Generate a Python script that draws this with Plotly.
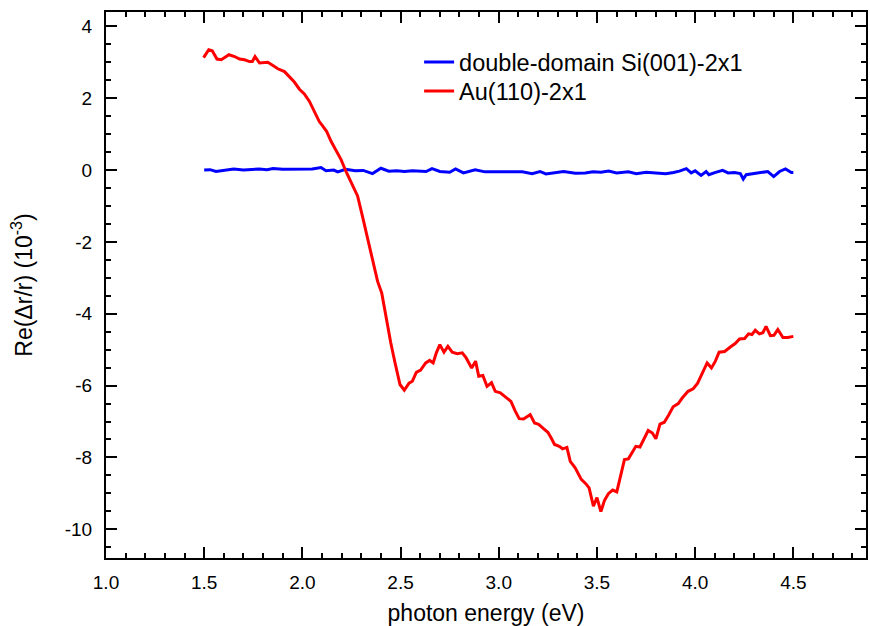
import plotly.graph_objects as go

# ---- data ----
si_energy = [1.50,1.53,1.56,1.60,1.65,1.70,1.75,1.78,1.82,1.85,1.90,1.95,2.00,2.05,2.095,
             2.12,2.16,2.18,2.22,2.27,2.31,2.357,2.40,2.44,2.48,2.52,2.56,2.60,2.63,2.66,
             2.70,2.75,2.78,2.82,2.88,2.93,2.98,3.02,3.07,3.12,3.17,3.21,3.24,3.29,3.33,
             3.39,3.44,3.48,3.52,3.56,3.60,3.66,3.70,3.75,3.80,3.85,3.89,3.92,3.955,3.98,
             4.00,4.03,4.056,4.07,4.10,4.14,4.168,4.20,4.23,4.245,4.26,4.30,4.335,4.37,4.40,
             4.43,4.46,4.49,4.50]
si_re = [0.00,0.01,-0.04,0.00,0.03,0.00,0.02,0.03,0.01,0.04,0.02,0.03,0.04,0.03,0.07,
         -0.02,0.00,-0.05,0.02,-0.02,-0.01,-0.10,0.05,-0.03,-0.02,-0.04,-0.02,-0.03,-0.04,0.04,
         -0.04,-0.06,0.03,-0.08,0.01,-0.05,-0.05,-0.07,-0.05,-0.05,-0.10,-0.04,-0.11,-0.06,-0.04,
         -0.09,-0.08,-0.05,-0.06,-0.03,-0.08,-0.05,-0.10,-0.06,-0.07,-0.10,-0.07,-0.03,0.04,-0.08,
         -0.02,-0.15,-0.04,-0.13,-0.07,-0.01,-0.08,-0.07,-0.10,-0.25,-0.13,-0.10,-0.07,-0.04,-0.18,
         -0.04,0.03,-0.07,-0.07]

au_energy = [1.497,1.523,1.541,1.565,1.587,1.626,1.655,1.680,1.706,1.731,1.745,1.759,1.782,1.799,
             1.824,1.850,1.875,1.909,1.934,1.959,1.985,2.010,2.036,2.061,2.086,2.103,2.124,2.146,
             2.171,2.197,2.222,2.247,2.281,2.306,2.332,2.357,2.383,2.404,2.424,2.450,2.472,2.497,
             2.519,2.543,2.560,2.580,2.602,2.628,2.648,2.666,2.682,2.700,2.721,2.741,2.763,2.789,
             2.814,2.834,2.848,2.862,2.882,2.898,2.919,2.940,2.963,2.982,3.008,3.033,3.062,3.084,
             3.104,3.126,3.160,3.182,3.203,3.228,3.250,3.267,3.284,3.308,3.325,3.347,3.364,3.389,
             3.420,3.443,3.460,3.482,3.500,3.520,3.538,3.558,3.580,3.601,3.623,3.640,3.660,3.677,
             3.698,3.719,3.740,3.761,3.782,3.800,3.821,3.843,3.866,3.888,3.914,3.935,3.964,3.990,
             4.012,4.035,4.061,4.083,4.103,4.122,4.150,4.181,4.204,4.226,4.252,4.272,4.289,4.306,
             4.327,4.345,4.361,4.383,4.401,4.421,4.447,4.472,4.500]
au_re = [3.13,3.35,3.32,3.09,3.07,3.21,3.16,3.09,3.07,3.02,3.02,3.16,2.98,2.98,
         3.00,2.91,2.82,2.74,2.60,2.45,2.25,2.12,1.91,1.63,1.35,1.23,1.07,0.80,
         0.56,0.29,-0.04,-0.34,-0.72,-1.29,-1.89,-2.45,-3.10,-3.42,-4.07,-4.81,-5.37,-5.97,
         -6.13,-5.93,-5.88,-5.63,-5.57,-5.37,-5.30,-5.37,-5.09,-4.86,-5.07,-4.91,-5.07,-5.11,
         -5.09,-5.23,-5.37,-5.51,-5.32,-5.74,-5.72,-6.02,-5.92,-6.16,-6.20,-6.31,-6.44,-6.71,
         -6.92,-6.93,-6.81,-7.04,-7.08,-7.20,-7.30,-7.46,-7.64,-7.69,-7.76,-7.72,-8.11,-8.29,
         -8.61,-8.73,-8.85,-9.36,-9.12,-9.51,-9.20,-9.01,-8.91,-8.96,-8.48,-8.06,-8.04,-7.89,
         -7.69,-7.71,-7.50,-7.25,-7.32,-7.48,-7.07,-7.02,-6.81,-6.59,-6.50,-6.34,-6.16,-6.09,
         -5.94,-5.67,-5.37,-5.51,-5.32,-5.07,-5.05,-4.92,-4.83,-4.70,-4.69,-4.56,-4.58,-4.46,
         -4.56,-4.53,-4.35,-4.61,-4.60,-4.44,-4.66,-4.66,-4.63]

series_names = ["double-domain Si(001)-2x1", "Au(110)-2x1"]

x_tick_vals = [1.0, 1.5, 2.0, 2.5, 3.0, 3.5, 4.0, 4.5]
x_tick_text = ["1.0", "1.5", "2.0", "2.5", "3.0", "3.5", "4.0", "4.5"]
y_tick_vals = [4, 2, 0, -2, -4, -6, -8, -10]
y_tick_text = ["4", "2", "0", "-2", "-4", "-6", "-8", "-10"]

FONT = "Liberation Sans, Arial, sans-serif"

fig = go.Figure()
fig.add_trace(go.Scatter(x=si_energy, y=si_re, mode="lines", name=series_names[0],
                         line=dict(color="#0000ff", width=3), legend="legend"))
fig.add_trace(go.Scatter(x=au_energy, y=au_re, mode="lines", name=series_names[1],
                         line=dict(color="#ff0000", width=3), legend="legend2"))

axis_common = dict(showline=True, linecolor="black", linewidth=2, mirror="allticks",
                   ticks="inside", ticklen=11, tickwidth=2, tickcolor="black",
                   showgrid=False, zeroline=False,
                   tickfont=dict(family=FONT, size=19, color="black"))

fig.update_xaxes(range=[1.0, 4.87], tickmode="array", tickvals=x_tick_vals, ticktext=x_tick_text,
                 minor=dict(tickmode="linear", tick0=1.0, dtick=0.1, ticks="inside",
                            ticklen=5, tickwidth=2, tickcolor="black", showgrid=False),
                 title=dict(text="photon energy (eV)", font=dict(family=FONT, size=23, color="black"),
                            standoff=14),
                 ticklabelstandoff=6,
                 **axis_common)
fig.update_yaxes(range=[-10.8, 4.4], tickmode="array", tickvals=y_tick_vals, ticktext=y_tick_text,
                 minor=dict(tickmode="linear", tick0=0, dtick=0.5, ticks="inside",
                            ticklen=5, tickwidth=2, tickcolor="black", showgrid=False),
                 title=dict(text="Re(\u0394r/r) (10<sup>-3</sup>)",
                            font=dict(family=FONT, size=23, color="black"), standoff=26),
                 ticklabelstandoff=8,
                 **axis_common)

legend_style = dict(xanchor="left", yanchor="middle", bgcolor="rgba(0,0,0,0)", borderwidth=0,
                    font=dict(family=FONT, size=23.5, color="black"))

fig.update_layout(
    width=870, height=626,
    margin=dict(l=106, r=2, t=12, b=68),
    paper_bgcolor="white", plot_bgcolor="white",
    font=dict(family=FONT, color="black"),
    showlegend=True,
    legend=dict(x=0.412, y=0.908, **legend_style),
    legend2=dict(x=0.412, y=0.855, **legend_style),
)

# remove the browser's default 8px body margin so the figure fills the window exactly
fig.write_html("out.html",
               config={"displayModeBar": False},
               post_script="document.body.style.margin='0px';document.body.style.overflow='hidden';")
